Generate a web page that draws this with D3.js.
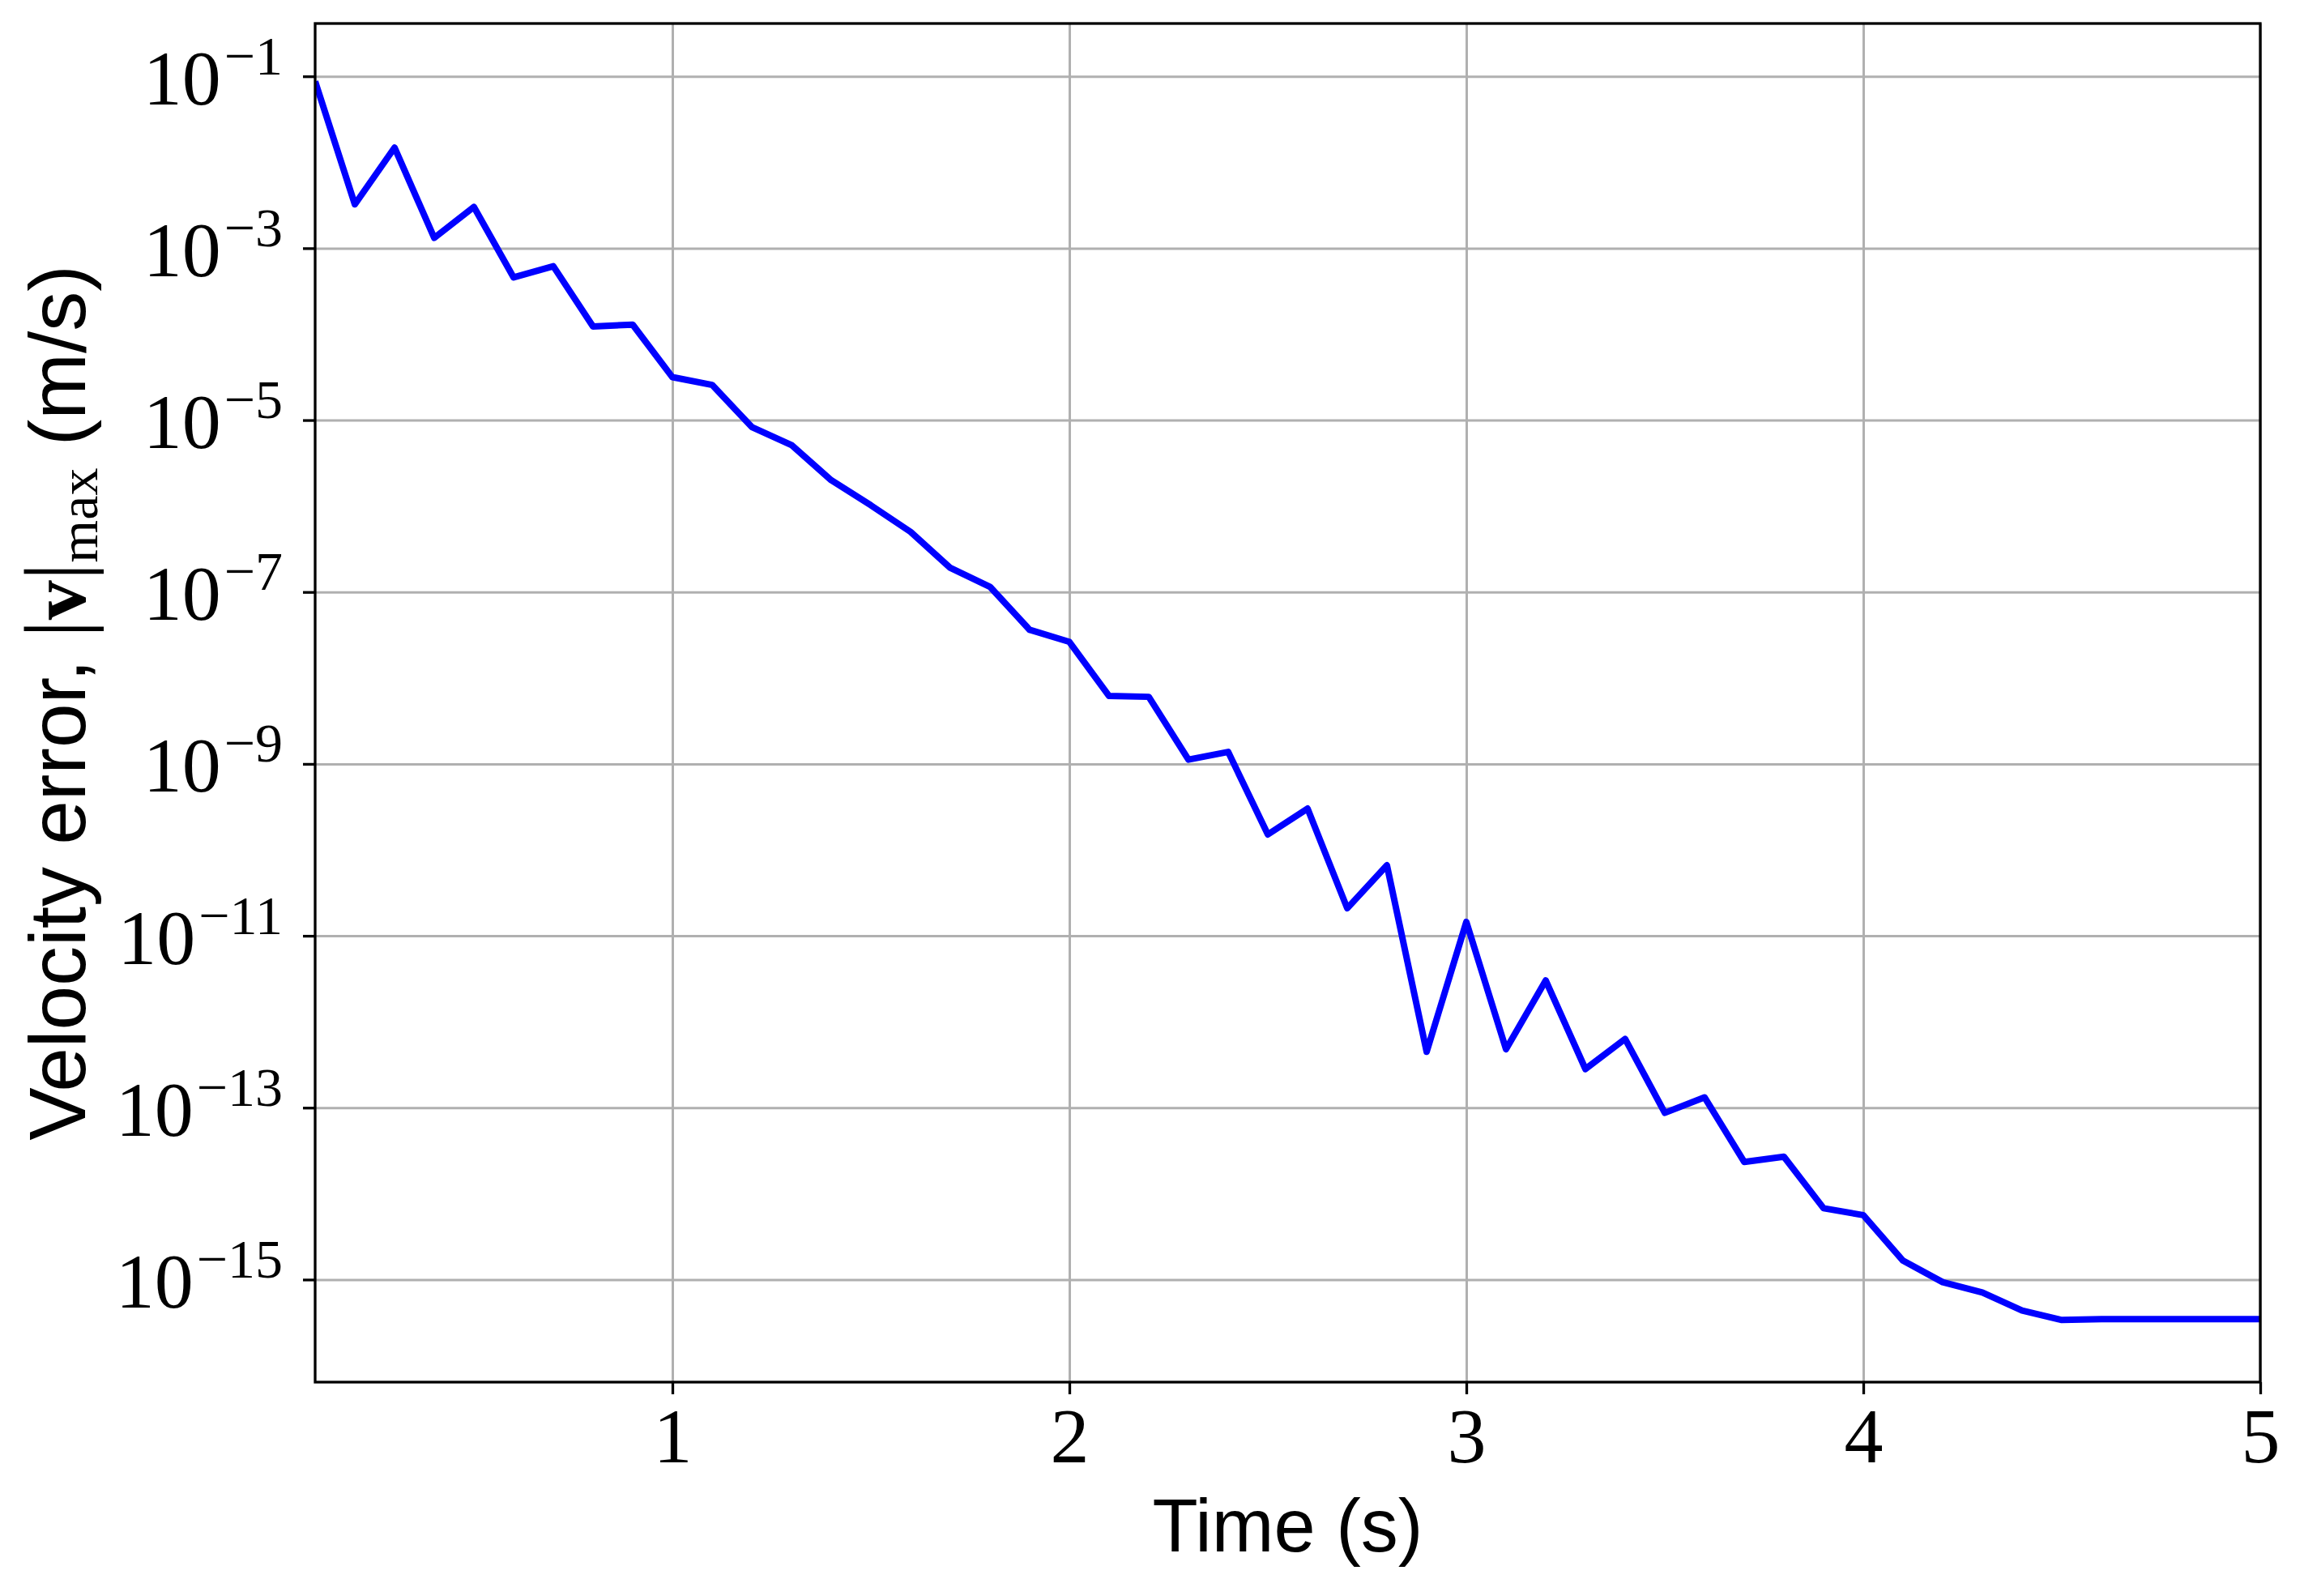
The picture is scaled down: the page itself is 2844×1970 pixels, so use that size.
<!DOCTYPE html>
<html>
<head>
<meta charset="utf-8">
<script src="https://cdn.jsdelivr.net/npm/d3@7"></script>
<style>
  html, body { margin: 0; padding: 0; background: #ffffff; }
  svg { display: block; }
</style>
</head>
<body>
<svg id="chart" width="2844" height="1970"></svg>
<script>
// ---- data ----
const times = [0.1,0.2,0.3,0.4,0.5,0.6,0.7,0.8,0.9,1.0,
               1.1,1.2,1.3,1.4,1.5,1.6,1.7,1.8,1.9,2.0,
               2.1,2.2,2.3,2.4,2.5,2.6,2.7,2.8,2.9,3.0,
               3.1,3.2,3.3,3.4,3.5,3.6,3.7,3.8,3.9,4.0,
               4.1,4.2,4.3,4.4,4.5,4.6,4.7,4.8,4.9,5.0];
const velocityError = [
  8.71e-2, 3.24e-3, 1.48e-2, 1.32e-3, 3.02e-3, 4.57e-4, 6.17e-4, 1.23e-4, 1.29e-4, 3.16e-5,
  2.57e-5, 8.32e-6, 5.13e-6, 2.00e-6, 1.02e-6, 5.01e-7, 1.91e-7, 1.15e-7, 3.63e-8, 2.63e-8,
  6.17e-9, 6.03e-9, 1.12e-9, 1.38e-9, 1.51e-10, 3.02e-10, 2.09e-11, 6.61e-11, 4.47e-13, 1.45e-11,
  4.79e-13, 3.02e-12, 2.82e-13, 6.31e-13, 8.71e-14, 1.32e-13, 2.34e-14, 2.69e-14, 6.76e-15, 5.62e-15,
  1.66e-15, 9.33e-16, 7.08e-16, 4.37e-16, 3.39e-16, 3.47e-16, 3.47e-16, 3.47e-16, 3.47e-16, 3.47e-16
];
const xTicks = [1, 2, 3, 4, 5];
const yTickExponents = [-1, -3, -5, -7, -9, -11, -13, -15];
const xDomain = [0.1, 5];
const yDomain = [Math.pow(10, -16.193), Math.pow(10, -0.3854)];
const xLabel = "Time (s)";

// ---- layout ----
const mLeft = 389, mRight = 2790, mTop = 29, mBottom = 1706;
const W = mRight - mLeft, H = mBottom - mTop;

const svg = d3.select("#chart");
const x = d3.scaleLinear().domain(xDomain).range([0, W]);
const y = d3.scaleLog().domain(yDomain).range([H, 0]);

const g = svg.append("g").attr("transform", `translate(${mLeft},${mTop})`);

// grid
const gridX = g.append("g").attr("transform", `translate(0,${H})`)
  .call(d3.axisBottom(x).tickValues(xTicks).tickSize(-H).tickFormat(""));
const gridY = g.append("g")
  .call(d3.axisLeft(y).tickValues(yTickExponents.map(e => Math.pow(10, e))).tickSize(-W).tickFormat(""));
[gridX, gridY].forEach(gg => {
  gg.select(".domain").remove();
  gg.selectAll("line").attr("stroke", "#b0b0b0").attr("stroke-width", 3);
});

// line
const line = d3.line().x((d, i) => x(times[i])).y(d => y(d));
g.append("defs").append("clipPath").attr("id", "clip")
  .append("rect").attr("x", 0).attr("y", 0).attr("width", W).attr("height", H);
g.append("path")
  .datum(velocityError)
  .attr("clip-path", "url(#clip)")
  .attr("d", line)
  .attr("fill", "none")
  .attr("stroke", "#0000ff")
  .attr("stroke-width", 8)
  .attr("stroke-linejoin", "round")
  .attr("stroke-linecap", "butt");

// axes with ticks
const serif = "'Liberation Serif', 'DejaVu Serif', serif";
const sans = "'Liberation Sans', Arial, sans-serif";

const xAxis = g.append("g").attr("transform", `translate(0,${H})`)
  .call(d3.axisBottom(x).tickValues(xTicks).tickSize(15).tickFormat(d3.format("d")));
xAxis.select(".domain").remove();
xAxis.selectAll("line").attr("stroke", "#000").attr("stroke-width", 3.3);
xAxis.selectAll("text")
  .attr("y", 99).attr("dy", null)
  .attr("fill", "#000")
  .style("font-family", serif).style("font-size", "96px");

const yAxis = g.append("g")
  .call(d3.axisLeft(y).tickValues(yTickExponents.map(e => Math.pow(10, e))).tickSize(15).tickPadding(25));
yAxis.select(".domain").remove();
yAxis.selectAll("line").attr("stroke", "#000").attr("stroke-width", 3.3);
yAxis.selectAll("text").each(function(d) {
  const t = d3.select(this);
  const e = Math.round(Math.log10(d));
  t.text(null)
    .attr("x", -40).attr("y", 34).attr("dy", null)
    .attr("text-anchor", "end").attr("fill", "#000")
    .style("font-family", serif).style("font-size", "96px");
  t.append("tspan").text("10");
  t.append("tspan").attr("dx", 4).attr("dy", -37).style("font-size", "68px").text("\u2212" + Math.abs(e));
});

// frame
g.append("rect").attr("x", 0).attr("y", 0).attr("width", W).attr("height", H)
  .attr("fill", "none").attr("stroke", "#000").attr("stroke-width", 3.3);

// x label
svg.append("text")
  .attr("x", mLeft + W / 2).attr("y", 1915)
  .attr("text-anchor", "middle")
  .style("font-family", sans).style("font-size", "92px")
  .attr("fill", "#000")
  .text(xLabel);

// y label
const yl = svg.append("text")
  .attr("transform", `translate(105,${mTop + H / 2}) rotate(-90)`)
  .attr("text-anchor", "middle")
  .attr("fill", "#000")
  .style("font-family", sans).style("font-size", "98px");
yl.append("tspan").text("Velocity error, ");
yl.append("tspan").style("font-family", serif).style("font-size", "108px").text("|");
yl.append("tspan").style("font-family", serif).style("font-weight", "bold").text("v");
yl.append("tspan").style("font-family", serif).style("font-size", "108px").text("|");
yl.append("tspan").attr("dy", 15).style("font-family", serif).style("font-size", "68px").text("max");
yl.append("tspan").attr("dy", -15).text(" (m/s)");
</script>
</body>
</html>
